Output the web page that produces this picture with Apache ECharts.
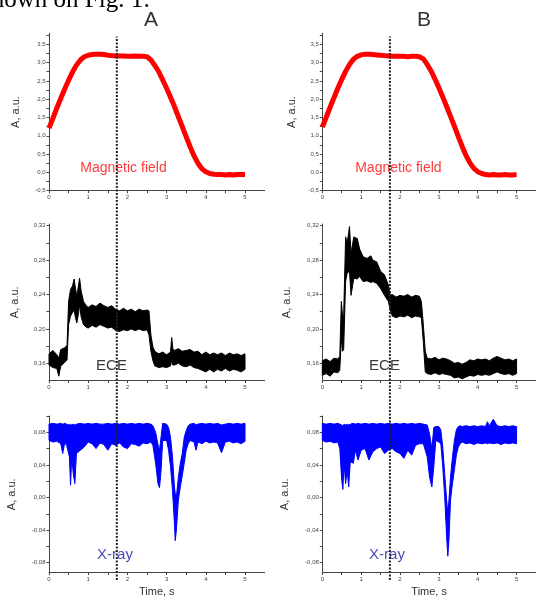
<!DOCTYPE html>
<html>
<head>
<meta charset="utf-8">
<script src="https://cdn.jsdelivr.net/npm/echarts@6/dist/echarts.min.js"></script>
<style>
html, body { margin: 0; padding: 0; background: #fff; }
#chart { width: 536px; height: 600px; }
</style>
</head>
<body>
<div id="chart"></div>
<script>
// magnetic field, sampled every 0.1 s
var tField = [0,0.1,0.2,0.3,0.4,0.5,0.6,0.7,0.8,0.9,
    1.0,1.1,1.2,1.3,1.4,1.5,1.6,1.7,1.8,1.9,
    2.0,2.1,2.2,2.3,2.4,2.5,2.6,2.7,2.8,2.9,
    3.0,3.1,3.2,3.3,3.4,3.5,3.6,3.7,3.8,3.9,
    4.0,4.1,4.2,4.3,4.4,4.5,4.6,4.7,4.8,4.9,5.0];
var fieldA = [1.21,1.48,1.76,2.02,2.28,2.52,2.74,2.93,3.07,3.16,
    3.20,3.22,3.23,3.23,3.22,3.20,3.19,3.18,3.18,3.18,
    3.17,3.17,3.18,3.17,3.17,3.16,3.07,2.92,2.75,2.53,
    2.30,2.05,1.80,1.52,1.25,0.97,0.70,0.45,0.25,0.10,
    0.02,-0.03,-0.05,-0.06,-0.06,-0.07,-0.06,-0.07,-0.06,-0.06,-0.06];
var fieldB = [1.24,1.50,1.78,2.04,2.30,2.54,2.76,2.95,3.09,3.17,
    3.21,3.23,3.23,3.22,3.21,3.20,3.19,3.18,3.17,3.17,
    3.17,3.17,3.16,3.17,3.17,3.16,3.10,2.95,2.77,2.55,
    2.31,2.06,1.80,1.53,1.26,0.98,0.71,0.46,0.26,0.11,
    0.02,-0.03,-0.06,-0.07,-0.06,-0.07,-0.07,-0.06,-0.07,-0.07,-0.06];

// ECE, column A: time, upper and lower edge of the noisy trace
var eceTA = [0,0.1,0.2,0.25,0.3,0.4,0.46,0.5,0.55,0.6,
    0.64,0.68,0.71,0.75,0.78,0.82,0.88,0.95,1.0,1.1,
    1.2,1.3,1.4,1.5,1.6,1.7,1.8,1.9,2.0,2.1,
    2.2,2.3,2.4,2.5,2.55,2.6,2.65,2.7,2.8,2.9,
    3.0,3.1,3.13,3.16,3.2,3.3,3.4,3.5,3.6,3.7,
    3.8,3.9,4.0,4.1,4.2,4.3,4.4,4.5,4.6,4.7,
    4.8,4.9,5.0];
var eceHiA = [0.171,0.175,0.170,0.166,0.176,0.178,0.181,0.232,0.246,0.250,
    0.258,0.246,0.238,0.250,0.259,0.244,0.232,0.227,0.225,0.228,
    0.226,0.230,0.227,0.225,0.227,0.223,0.221,0.224,0.221,0.223,
    0.220,0.223,0.221,0.222,0.221,0.193,0.179,0.174,0.171,0.173,
    0.170,0.173,0.190,0.177,0.175,0.177,0.174,0.175,0.176,0.173,
    0.174,0.170,0.173,0.170,0.172,0.170,0.172,0.169,0.172,0.170,
    0.171,0.169,0.171];
var eceLoA = [0.158,0.155,0.154,0.145,0.157,0.161,0.164,0.205,0.215,0.219,
    0.222,0.212,0.207,0.217,0.228,0.214,0.205,0.202,0.201,0.204,
    0.202,0.205,0.203,0.201,0.202,0.198,0.197,0.199,0.198,0.200,
    0.198,0.200,0.198,0.199,0.193,0.174,0.163,0.157,0.155,0.156,
    0.155,0.157,0.163,0.158,0.158,0.160,0.157,0.156,0.158,0.155,
    0.154,0.152,0.150,0.153,0.150,0.153,0.151,0.154,0.151,0.153,
    0.152,0.150,0.153];

// ECE, column B
var eceTB = [0,0.1,0.2,0.3,0.4,0.45,0.49,0.52,0.55,0.6,
    0.64,0.7,0.74,0.81,0.9,0.96,1.05,1.15,1.25,1.3,
    1.4,1.5,1.6,1.7,1.75,1.8,1.9,2.0,2.1,2.2,
    2.3,2.4,2.5,2.55,2.6,2.65,2.7,2.8,2.9,3.0,
    3.1,3.2,3.3,3.4,3.5,3.6,3.7,3.8,3.9,4.0,
    4.1,4.2,4.3,4.4,4.5,4.6,4.7,4.8,4.9,5.0];
var eceHiB = [0.163,0.165,0.162,0.166,0.165,0.168,0.232,0.215,0.216,0.307,
    0.300,0.319,0.288,0.307,0.305,0.293,0.284,0.282,0.285,0.280,
    0.278,0.267,0.263,0.251,0.239,0.240,0.237,0.239,0.238,0.240,
    0.237,0.239,0.238,0.232,0.205,0.174,0.166,0.165,0.167,0.164,
    0.166,0.165,0.163,0.160,0.161,0.159,0.161,0.164,0.163,0.165,
    0.164,0.165,0.163,0.166,0.168,0.166,0.164,0.165,0.163,0.165];
var eceLoB = [0.146,0.148,0.145,0.150,0.149,0.152,0.189,0.174,0.176,0.255,
    0.265,0.267,0.239,0.259,0.258,0.261,0.255,0.256,0.254,0.255,
    0.253,0.247,0.239,0.232,0.222,0.215,0.213,0.215,0.214,0.216,
    0.213,0.215,0.214,0.213,0.185,0.150,0.148,0.147,0.149,0.147,
    0.148,0.147,0.146,0.143,0.144,0.142,0.144,0.146,0.145,0.147,
    0.146,0.147,0.146,0.148,0.150,0.148,0.147,0.148,0.146,0.148];

// X-ray, column A
var xrTA = [0,0.1,0.2,0.3,0.35,0.4,0.45,0.52,0.55,0.58,
    0.62,0.66,0.7,0.8,0.9,1.0,1.1,1.2,1.3,1.4,
    1.5,1.6,1.7,1.8,1.9,2.0,2.1,2.2,2.3,2.4,
    2.5,2.6,2.65,2.72,2.78,2.82,2.86,2.9,3.0,3.05,
    3.1,3.15,3.2,3.22,3.25,3.3,3.35,3.4,3.45,3.5,
    3.55,3.6,3.7,3.75,3.8,3.9,4.0,4.1,4.2,4.3,
    4.4,4.5,4.6,4.7,4.8,4.9,5.0];
var xrHiA = [0.090,0.091,0.090,0.091,0.090,0.091,0.090,0.089,0.090,0.089,
    0.090,0.089,0.090,0.091,0.090,0.091,0.090,0.091,0.090,0.090,
    0.091,0.090,0.091,0.090,0.091,0.090,0.091,0.090,0.091,0.090,
    0.091,0.090,0.088,0.080,0.065,0.058,0.075,0.091,0.090,0.086,
    0.074,0.050,0.013,0.005,0.001,0.025,0.042,0.054,0.074,0.082,
    0.088,0.090,0.091,0.089,0.090,0.091,0.090,0.091,0.090,0.091,
    0.089,0.090,0.091,0.090,0.091,0.090,0.091];
var xrLoA = [0.070,0.068,0.069,0.066,0.054,0.067,0.064,0.050,0.015,0.050,
    0.029,0.017,0.054,0.058,0.062,0.068,0.066,0.060,0.067,0.065,
    0.058,0.066,0.064,0.067,0.062,0.060,0.066,0.065,0.063,0.067,
    0.066,0.068,0.064,0.042,0.017,0.012,0.034,0.070,0.070,0.058,
    0.038,0.009,-0.032,-0.053,-0.040,-0.003,0.013,0.027,0.042,0.058,
    0.066,0.070,0.068,0.058,0.068,0.066,0.069,0.067,0.068,0.067,
    0.055,0.068,0.069,0.067,0.068,0.066,0.069];

// X-ray, column B
var xrTB = [0,0.1,0.2,0.3,0.4,0.45,0.5,0.53,0.56,0.6,
    0.64,0.68,0.72,0.8,0.85,0.92,1.0,1.1,1.2,1.3,
    1.4,1.5,1.6,1.7,1.8,1.9,2.0,2.1,2.2,2.3,
    2.4,2.5,2.6,2.7,2.76,2.82,2.87,2.92,3.0,3.05,
    3.1,3.15,3.2,3.23,3.26,3.3,3.35,3.4,3.45,3.5,
    3.55,3.6,3.7,3.8,3.9,4.0,4.1,4.2,4.25,4.3,
    4.4,4.5,4.6,4.7,4.8,4.9,5.0];
var xrHiB = [0.091,0.090,0.091,0.090,0.091,0.090,0.089,0.088,0.090,0.089,
    0.090,0.089,0.090,0.091,0.090,0.091,0.090,0.091,0.090,0.091,
    0.090,0.091,0.090,0.091,0.090,0.091,0.090,0.091,0.090,0.091,
    0.090,0.091,0.090,0.089,0.078,0.060,0.086,0.087,0.087,0.083,
    0.062,0.029,-0.003,-0.020,-0.003,0.025,0.050,0.070,0.083,0.087,
    0.088,0.087,0.088,0.087,0.088,0.087,0.088,0.087,0.093,0.088,
    0.096,0.088,0.087,0.088,0.087,0.088,0.087];
var xrLoB = [0.070,0.068,0.069,0.067,0.068,0.060,0.021,0.010,0.042,0.017,
    0.033,0.013,0.044,0.042,0.058,0.046,0.058,0.060,0.046,0.056,
    0.060,0.062,0.054,0.058,0.060,0.056,0.054,0.048,0.058,0.052,
    0.064,0.066,0.066,0.050,0.025,0.013,0.038,0.070,0.068,0.066,
    0.038,0.001,-0.048,-0.072,-0.052,-0.003,0.017,0.034,0.052,0.062,
    0.066,0.068,0.066,0.067,0.065,0.067,0.066,0.067,0.066,0.067,
    0.066,0.067,0.065,0.067,0.066,0.067,0.066];

// dotted marker time in each column
var markT = [1.73, 1.74];

// tick labels
var timeLabels = [0,1,2,3,4,5];
var timeTicks = [0,0.5,1,1.5,2,2.5,3,3.5,4,4.5,5];
var fieldLabels = [-0.5,0,0.5,1,1.5,2,2.5,3,3.5];
var fieldTicks = [-0.5,-0.25,0,0.25,0.5,0.75,1,1.25,1.5,1.75,2,2.25,2.5,2.75,3,3.25,3.5,3.75];
var eceLabels = [0.16,0.20,0.24,0.28,0.32];
var eceTicks = [0.16,0.18,0.20,0.22,0.24,0.26,0.28,0.30,0.32];
var xrLabels = [-0.08,-0.04,0,0.04,0.08];
var xrTicks = [-0.08,-0.06,-0.04,-0.02,0,0.02,0.04,0.06,0.08,0.10];

var FONT = 'Liberation Sans, Arial, sans-serif';
var colLeft = [49, 322.3];
var plotW = 215.6;
var rows = [
    {top: 33.3, height: 157.4, min: -0.5, max: 3.8, labels: fieldLabels, ticks: fieldTicks, digits: 1},
    {top: 224, height: 156.5, min: 0.14, max: 0.322, labels: eceLabels, ticks: eceTicks, digits: 2},
    {top: 416, height: 156.5, min: -0.092, max: 0.10, labels: xrLabels, ticks: xrTicks, digits: 2}
];
var nameGaps = [[28, 29, 32], [25, 30, 32]];

function pairs(t, v) {
    return t.map(function (x, i) { return [x, v[i]]; });
}

function bandSeries(g, t, lo, hi, color) {
    return {
        type: 'custom',
        xAxisIndex: g,
        yAxisIndex: g,
        silent: true,
        data: t.map(function (x, i) { return [x, lo[i], hi[i]]; }),
        encode: {x: 0, y: [1, 2]},
        renderItem: function (params, api) {
            if (params.dataIndex !== 0) return null;
            var pts = [];
            for (var i = 0; i < t.length; i++) pts.push(api.coord([t[i], hi[i]]));
            for (var j = t.length - 1; j >= 0; j--) pts.push(api.coord([t[j], lo[j]]));
            return {
                type: 'polygon',
                shape: {points: pts},
                style: {fill: color, stroke: color, lineWidth: 1, lineJoin: 'round'}
            };
        }
    };
}

var grids = [], xAxes = [], yAxes = [], series = [];

for (var c = 0; c < 2; c++) {
    for (var r = 0; r < 3; r++) {
        var g = c * 3 + r;
        var row = rows[r];
        grids.push({left: colLeft[c], top: row.top, width: plotW, height: row.height});
        xAxes.push({
            type: 'value', gridIndex: g, min: 0, max: 5.5,
            name: r === 2 ? 'Time, s' : '',
            nameLocation: 'middle', nameGap: 14,
            nameTextStyle: {fontFamily: FONT, fontSize: 11, color: '#333'},
            axisLine: {onZero: false, lineStyle: {color: '#444', width: 1}},
            axisTick: {customValues: timeTicks, length: 2.5, lineStyle: {color: '#444'}},
            axisLabel: {customValues: timeLabels, fontFamily: FONT, fontSize: 6, color: '#444', margin: 4},
            splitLine: {show: false}
        });
        (function (digits) {
            yAxes.push({
                type: 'value', gridIndex: g, min: row.min, max: row.max,
                name: 'A, a.u.', nameLocation: 'middle', nameGap: nameGaps[c][r],
                nameTextStyle: {fontFamily: FONT, fontSize: 11, color: '#333'},
                axisLine: {show: true, onZero: false, lineStyle: {color: '#444', width: 1}},
                axisTick: {customValues: row.ticks, length: 2.5, lineStyle: {color: '#444'}},
                axisLabel: {
                    customValues: row.labels, fontFamily: FONT, fontSize: 6, color: '#444', margin: 3.5,
                    formatter: function (v) { return v.toFixed(digits).replace('.', ','); }
                },
                splitLine: {show: false}
            });
        })(row.digits);
    }
}

// magnetic field
series.push({type: 'line', xAxisIndex: 0, yAxisIndex: 0, data: pairs(tField, fieldA),
    symbol: 'none', lineStyle: {color: '#ff0000', width: 5, join: 'round'}});
series.push({type: 'line', xAxisIndex: 3, yAxisIndex: 3, data: pairs(tField, fieldB),
    symbol: 'none', lineStyle: {color: '#ff0000', width: 5, join: 'round'}});
// ECE
series.push(bandSeries(1, eceTA, eceLoA, eceHiA, '#000000'));
series.push(bandSeries(4, eceTB, eceLoB, eceHiB, '#000000'));
// X-ray
series.push(bandSeries(2, xrTA, xrLoA, xrHiA, '#0000ff'));
series.push(bandSeries(5, xrTB, xrLoB, xrHiB, '#0000ff'));

// full-height overlay grids for the dotted time marker
for (var k = 0; k < 2; k++) {
    var gi = 6 + k;
    grids.push({left: colLeft[k], top: 36.5, width: plotW, height: 543.5});
    xAxes.push({type: 'value', gridIndex: gi, min: 0, max: 5.5, show: false});
    yAxes.push({type: 'value', gridIndex: gi, min: 0, max: 1, show: false});
    series.push({
        type: 'line', xAxisIndex: gi, yAxisIndex: gi, symbol: 'none', z: 5,
        data: [[markT[k], 0], [markT[k], 1]],
        lineStyle: {color: '#222', width: 2, type: [2, 1.5]}
    });
}

function label(text, x, y, size, color, family) {
    return {
        type: 'text', x: x, y: y, z: 1,
        style: {
            text: text, fill: color, align: 'center', verticalAlign: 'middle',
            font: size + 'px ' + (family || FONT)
        }
    };
}

var option = {
    animation: false,
    backgroundColor: '#fff',
    grid: grids,
    xAxis: xAxes,
    yAxis: yAxes,
    series: series,
    graphic: [
        // cut-off line of the surrounding page text
        {type: 'text', x: -18, y: 12.5, style: {text: 'shown on Fig. 1:', fill: '#000',
            verticalAlign: 'bottom', font: '25px Liberation Serif, serif'}},
        label('A', 151, 20, 21, '#333'),
        label('B', 424, 20, 21, '#333'),
        label('Magnetic field', 123.5, 168, 14, '#ff3b3b'),
        label('Magnetic field', 398.4, 168, 14, '#ff3b3b'),
        label('ECE', 111.5, 366, 15, '#3a3a3a'),
        label('ECE', 384.5, 366, 15, '#3a3a3a'),
        label('X-ray', 115, 555, 15, '#4a4ab8'),
        label('X-ray', 387, 555, 15, '#4a4ab8')
    ]
};

var chart = echarts.init(document.getElementById('chart'));
chart.setOption(option);
window.addEventListener('resize', function () {
    chart.resize();
});
</script>
</body>
</html>
